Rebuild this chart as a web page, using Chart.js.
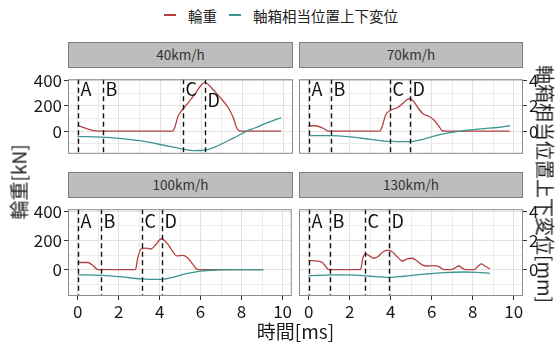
<!DOCTYPE html>
<html>
<head>
<meta charset="utf-8">
<script src="https://cdn.jsdelivr.net/npm/chart.js@4/dist/chart.umd.min.js"></script>
<style>
  html, body { margin: 0; padding: 0; background: #fff; }
  #fig { position: relative; width: 557px; height: 345px; overflow: hidden;
         font-family: "Noto Sans CJK JP", "Noto Sans", sans-serif; color: #1a1a1a; }
  #fig canvas { position: absolute; }
  .strip { position: absolute; box-sizing: border-box; height: 26px; background: #bdbdbd;
           border: 1px solid #7f7f7f; font-size: 13.5px; color: #333; text-align: center; line-height: 23px; }
  .title { position: absolute; white-space: nowrap; font-size: 19px; line-height: 1; color: #1a1a1a; }
  #legend { position: absolute; left: 0; top: 4px; width: 562px; height: 22px; display: flex;
            justify-content: center; align-items: center; font-size: 14.5px; color: #222; }
  #legend .key { display: inline-block; width: 12px; height: 1.5px; margin-right: 12px; }
  #legend .gap { display: inline-block; width: 12px; }
</style>
</head>
<body>
<div id="fig">
  <div id="legend">
    <span class="key" style="background:#b3413f"></span><span>輪重</span><span class="gap"></span>
    <span class="key" style="background:#3c958f"></span><span>軸箱相当位置上下変位</span>
  </div>
  <div class="strip" style="left:68px;top:42px;width:225px">40km/h</div>
  <div class="strip" style="left:299px;top:42px;width:224px">70km/h</div>
  <div class="strip" style="left:68px;top:172px;width:225px">100km/h</div>
  <div class="strip" style="left:299px;top:172px;width:224px">130km/h</div>
  <canvas id="c40" width="293" height="99" style="left:0;top:67px"></canvas>
  <canvas id="c70" width="258" height="99" style="left:299px;top:67px"></canvas>
  <canvas id="c100" width="293" height="125" style="left:0;top:197px"></canvas>
  <canvas id="c130" width="258" height="125" style="left:299px;top:197px"></canvas>
  <div class="title" style="left:18px;top:182px;transform:translate(-50%,-50%) rotate(-90deg)">輪重[kN]</div>
  <div class="title" style="left:546px;top:184px;transform:translate(-50%,-50%) rotate(90deg)">軸箱相当位置上下変位[mm]</div>
  <div class="title" style="left:295.5px;top:330px;transform:translate(-50%,-50%)">時間[ms]</div>
</div>
<script>
// ---- data: time [ms], wheel load [kN], axle-box displacement [mm] ----
const speeds = ['40km/h', '70km/h', '100km/h', '130km/h'];

const loadTime40 = [0, 0.99, 4.59, 4.71, 4.87, 5.12, 5.36, 5.69, 5.93, 6.17, 6.32, 6.66, 6.98, 7.31, 7.55, 7.71, 7.87, 9.87];
const load40     = [43, 0, 0, 29, 118, 176, 225, 294, 353, 388, 372, 314, 255, 186, 108, 29, 0, 0];
const dispTime40 = [0, 1.15, 2.12, 3.09, 4.07, 5.04, 5.69, 6.17, 6.66, 7.14, 7.63, 8.2, 8.6, 9.25, 9.87];
const disp40     = [-0.43, -0.47, -0.59, -0.78, -1.08, -1.41, -1.55, -1.51, -1.27, -0.88, -0.49, 0, 0.25, 0.69, 1.08];

const loadTime70 = [0, 0.33, 0.66, 0.98, 3.47, 3.59, 3.75, 4.0, 4.32, 4.56, 4.8, 4.92, 5.13, 5.37, 5.59, 5.86, 6.11, 6.35, 6.51, 6.68, 9.81];
const load70     = [43, 43, 27, 0, 0, 39, 127, 167, 186, 216, 251, 259, 235, 176, 137, 118, 88, 39, 4, 0, 0];
const dispTime70 = [0, 1.07, 2.04, 3.02, 4.0, 4.89, 5.46, 6.11, 6.76, 7.57, 8.54, 9.2, 9.81];
const disp70     = [-0.35, -0.35, -0.45, -0.65, -0.82, -0.84, -0.69, -0.39, -0.16, 0.04, 0.2, 0.29, 0.43];

const loadTime100 = [0, 0.5, 0.74, 0.99, 2.82, 2.93, 3.09, 3.34, 3.58, 3.82, 4.08, 4.39, 4.63, 4.84, 5.12, 5.36, 5.61, 5.82, 6.01, 9.06];
const load100     = [49, 49, 29, 0, 0, 78, 141, 147, 141, 172, 211, 176, 127, 94, 98, 82, 39, 4, 0, 0];
const dispTime100 = [0, 1.15, 2.12, 3.09, 3.98, 4.55, 5.2, 6.01, 6.82, 7.63, 9.06];
const disp100     = [-0.35, -0.39, -0.49, -0.63, -0.67, -0.55, -0.31, -0.1, -0.02, 0, 0];

const loadTime130 = [0, 0.41, 0.66, 0.82, 0.98, 2.53, 2.64, 2.77, 2.93, 3.15, 3.37, 3.63, 3.86, 4.07, 4.32, 4.56, 4.8, 5.05, 5.29, 5.54, 5.78, 6.1, 6.35, 6.59, 6.92, 7.11, 7.32, 7.49, 7.65, 8.06, 8.3, 8.43, 8.59, 8.84];
const load130     = [63, 59, 49, 24, 0, 0, 78, 108, 98, 78, 88, 122, 133, 122, 88, 59, 74, 78, 59, 33, 25, 27, 20, 0, 0, 10, 25, 10, 0, 0, 29, 39, 25, 4];
const dispTime130 = [0, 1.07, 2.04, 3.02, 3.91, 4.64, 5.62, 6.59, 7.57, 8.22, 8.84];
const disp130     = [-0.43, -0.35, -0.35, -0.45, -0.53, -0.45, -0.31, -0.2, -0.16, -0.18, -0.25];

// event markers A-D (time) and the height of their letters [kN]
const markerNames = ['A', 'B', 'C', 'D'];
const markers40  = [0, 1.21, 5.09, 6.2];
const markers70  = [0, 1.08, 3.96, 4.92];
const markers100 = [0.03, 1.12, 3.13, 4.1];
const markers130 = [0, 1.03, 2.77, 3.91];
const markerY40  = [333, 333, 333, 243];
const markerY    = [333, 333, 333, 333];

// axes
const xTicks = [0, 2, 4, 6, 8, 10];
const xGrid = [0, 1, 2, 3, 4, 5, 6, 7, 8, 9, 10];
const loadTicks = [0, 200, 400];
const loadGrid = [-100, 0, 100, 200, 300, 400];
const dispTicks = [0, 2, 4];
const X_MIN = -0.47, X_MAX = 10.45;
const LOAD_MIN = -180, LOAD_MAX = 413;
const DISP_MIN = -1.80, DISP_MAX = 4.13;

const RED = '#b3413f', TEAL = '#3c958f';
const GRID_MAJOR = '#e2e2e2', GRID_MINOR = '#ececec', TICK = '#333333';
const FONT = { family: '"Noto Sans CJK JP", "Noto Sans", sans-serif', size: 17 };

const panelDecor = {
  id: 'panelDecor',
  afterDatasetsDraw(chart, args, opts) {
    const { ctx, chartArea: a, scales } = chart;
    ctx.save();
    ctx.strokeStyle = '#111';
    ctx.lineWidth = 1.4;
    ctx.setLineDash([5, 3.5]);
    const xs = opts.markers.map(t => Math.round(scales.x.getPixelForValue(t)) + 0.5);
    xs.forEach(x => {
      ctx.beginPath(); ctx.moveTo(x, a.top); ctx.lineTo(x, a.bottom); ctx.stroke();
    });
    ctx.setLineDash([]);
    ctx.fillStyle = '#111';
    ctx.font = '18px "Noto Sans CJK JP"';
    ctx.textAlign = 'left';
    ctx.textBaseline = 'middle';
    xs.forEach((x, i) => ctx.fillText(markerNames[i], x + 2, scales.y.getPixelForValue(opts.labelY[i])));
    ctx.strokeStyle = '#8c8c8c';
    ctx.lineWidth = 1;
    ctx.strokeRect(a.left + 0.5, a.top + 0.5, a.width - 1, a.height - 1);
    ctx.restore();
  }
};

function series(ts, vs) { return ts.map((t, i) => ({ x: t, y: vs[i] })); }

function makePanel(id, cfg) {
  const { loadT, load, dispT, disp, markers, labelY, left, bottom } = cfg;
  new Chart(document.getElementById(id), {
    type: 'line',
    data: {
      datasets: [
        { data: series(dispT, disp), yAxisID: 'y2', borderColor: TEAL, borderWidth: 1.3,
          pointRadius: 0, cubicInterpolationMode: 'monotone', fill: false },
        { data: series(loadT, load), yAxisID: 'y', borderColor: RED, borderWidth: 1.3,
          pointRadius: 0, cubicInterpolationMode: 'monotone', fill: false }
      ]
    },
    options: {
      responsive: false,
      animation: false,
      events: [],
      layout: { padding: 0 },
      plugins: { legend: { display: false }, tooltip: { enabled: false }, panelDecor: { markers, labelY } },
      scales: {
        x: {
          type: 'linear', min: X_MIN, max: X_MAX,
          afterBuildTicks: s => { s.ticks = xGrid.map(v => ({ value: v })); },
          afterFit: s => { s.height = bottom ? 26 : 0; },
          border: { display: false },
          grid: {
            color: c => xTicks.includes(c.tick.value) ? GRID_MAJOR : GRID_MINOR,
            lineWidth: 1, drawTicks: bottom, tickLength: 4,
            tickColor: c => xTicks.includes(c.tick.value) ? TICK : 'rgba(0,0,0,0)'
          },
          ticks: { display: bottom, autoSkip: false, maxRotation: 0, padding: 1, font: FONT, color: '#1a1a1a',
                   callback: v => xTicks.includes(v) ? String(v) : '' }
        },
        y: {
          type: 'linear', position: 'left', min: LOAD_MIN, max: LOAD_MAX,
          afterBuildTicks: s => { s.ticks = loadGrid.map(v => ({ value: v })); },
          afterFit: s => { s.width = left ? 68 : 0; },
          border: { display: false },
          grid: {
            color: c => loadTicks.includes(c.tick.value) ? GRID_MAJOR : GRID_MINOR,
            lineWidth: 1, drawTicks: left, tickLength: 4,
            tickColor: c => loadTicks.includes(c.tick.value) ? TICK : 'rgba(0,0,0,0)'
          },
          ticks: { display: left, autoSkip: false, padding: 2, font: FONT, color: '#1a1a1a',
                   callback: v => loadTicks.includes(v) ? String(v) : '' }
        },
        y2: {
          type: 'linear', position: 'right', min: DISP_MIN, max: DISP_MAX, display: !left,
          afterBuildTicks: s => { s.ticks = dispTicks.map(v => ({ value: v })); },
          afterFit: s => { s.width = left ? 0 : 34; },
          border: { display: false },
          grid: { drawOnChartArea: false, drawTicks: true, tickLength: 4, tickColor: TICK },
          ticks: { autoSkip: false, padding: 2, font: FONT, color: '#1a1a1a', callback: v => String(v) }
        }
      }
    },
    plugins: [panelDecor]
  });
}

makePanel('c40',  { loadT: loadTime40,  load: load40,  dispT: dispTime40,  disp: disp40,  markers: markers40,  labelY: markerY40, left: true,  bottom: false });
makePanel('c70',  { loadT: loadTime70,  load: load70,  dispT: dispTime70,  disp: disp70,  markers: markers70,  labelY: markerY,   left: false, bottom: false });
makePanel('c100', { loadT: loadTime100, load: load100, dispT: dispTime100, disp: disp100, markers: markers100, labelY: markerY,   left: true,  bottom: true });
makePanel('c130', { loadT: loadTime130, load: load130, dispT: dispTime130, disp: disp130, markers: markers130, labelY: markerY,   left: false, bottom: true });
</script>
</body>
</html>
